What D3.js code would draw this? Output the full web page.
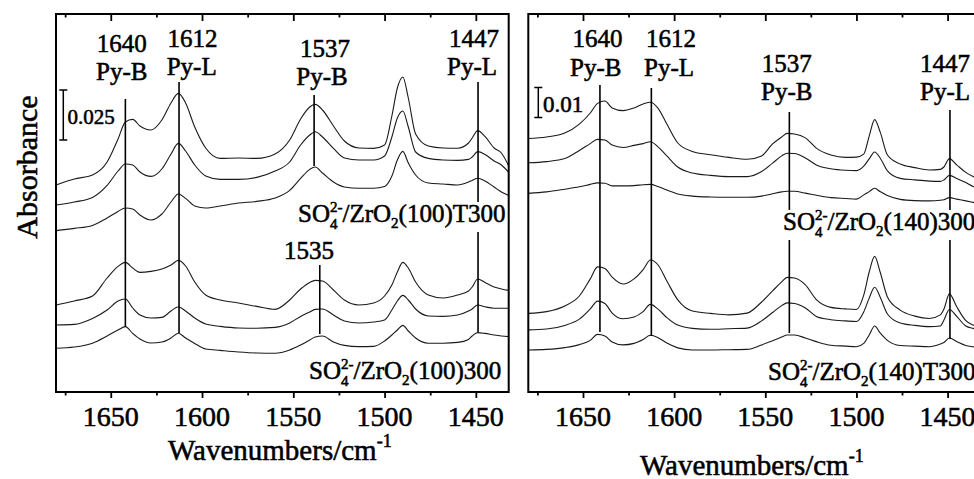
<!DOCTYPE html>
<html><head><meta charset="utf-8">
<script src="https://cdn.jsdelivr.net/npm/d3@7"></script>
<style>
body{margin:0;background:#fff}
svg{display:block}
text{font-family:"Liberation Serif","Times New Roman",serif;fill:#000;stroke:#000;stroke-width:0.55px}
</style>
</head><body>
<svg id="chart" width="974" height="479"></svg>
<script>
// Wavenumber grid (cm-1) shared by all spectra
const wavenumbers = [1680,1670,1660,1652,1646,1642,1638,1634,1628,1622,1617,1613,1609,1604,1598,1590,1580,1570,1560,1552,1546,1541,1538,1534,1528,1522,1514,1506,1500,1496,1493,1490,1487,1483,1476,1468,1460,1454,1452,1449,1445,1440,1436,1432];

// Absorbance (x10^-3, stacked with offsets) – left panel, SO4/ZrO2(100)T300
const z100T300_a = [103.5,106.5,108.5,115,126.5,135,136.3,133,131,136,144.5,149.3,144.5,132.5,122,116.8,117,116.8,119,126,136.5,142.5,143.8,141,133,125.5,122,121.8,123.5,138,152,157.5,147,129,123,122,121.9,124.5,127,130.7,127.8,122,119.5,113];
const z100T300_b = [93.5,95,97.3,103.3,110.5,114,113.5,110,107.8,111.5,119,124.3,120.5,113.5,108,106.3,106.3,107.3,110.5,115,123.5,128.5,130.1,127.5,121.8,117,116,116,118,127.5,137,140.5,132.5,120,116.8,116,115.8,116.3,117.5,120.2,118.8,115.5,113.5,109.8];
const z100T300_c = [80.7,81.8,83.3,87,90.3,92,91.5,88.5,86,89,95,99,96.8,93,92,93,94.5,95.3,97,100.8,106.8,111.3,112.5,109.5,105,102.5,101.9,101.9,102.8,108,116,120.3,114.5,108.5,104.5,104,103.5,105,105.8,106.9,105.5,102.5,100,98.3];
// left panel, SO4/ZrO2(100)300
const z100_300_a = [43.5,45.5,48,57,62.8,64.8,62,59.8,60.3,61.5,63.5,65.8,63,55,48.5,46,44.5,42.8,41.3,46,51.5,54.8,55.8,55.5,51,46,43.5,44.5,48,53.5,60,64.8,62,55,48.5,47,48.5,50.5,52.5,56.5,54.8,52.5,51.5,50.8];
const z100_300_b = [33.5,33.8,36.8,41,45.5,46.5,42,38.5,37,37.3,40.5,42.6,40.5,37,34,32.8,32,31.9,32.3,34.5,37.8,40,41.3,41.5,38.5,35.5,34.5,35,36,41,45.5,48.3,46,41.5,38,37.8,38.5,40.5,41.5,43.5,42.6,41.9,41.9,41.9];
const z100_300_c = [21.9,22.5,24.4,28,31,32.7,29.3,26.5,24.5,25,27,29.4,27,24.3,21.5,20.8,20,19.5,19.4,21,23.5,26,27.5,28,25,23.3,22.7,22.8,25.5,28.5,31,33.3,30.5,27,24.4,24.4,24.8,26.3,28,29.7,29.3,28.5,28,27.7];
// right panel, SO4/ZrO2(140)300
const z140_300_a = [84.5,85,86.3,89.3,93,96.2,97,94.7,93.8,94.7,96,96.6,94.7,89.3,83,80.2,79.1,78.2,77.6,78.7,82.7,85,86.2,86,84.7,81.3,79,78.2,78.3,79.3,85.3,90.8,86.7,79,76,74.8,74,74.2,75,77.8,75.7,73.2,71.8,70.7];
const z140_300_b = [76.4,76.8,77.8,80.5,82.8,84.2,84,82.3,81.5,82.2,82.8,83.4,81.8,78.7,75,73,72.2,71.8,71.8,73.5,76.3,78.7,79.6,79.5,78,75.7,74.4,73.9,73.8,75.3,77.7,80,78,73.7,71.2,70.7,70.3,70.2,70.7,72.2,71.2,69.8,68.5,67.7];
const z140_300_c = [66.2,66.7,67.6,68.4,69.2,69.7,69.6,68.7,68.7,68.8,69.1,69.2,68.5,67.3,66,65.3,65,64.9,64.9,65.3,66.1,66.7,66.9,66.9,66.3,65.6,64.8,64.5,64.3,65.7,66.8,67.9,66.8,65.5,64.2,63.8,63.7,63.9,64.1,64.8,64.3,63.7,63.2,62.7];
// right panel, SO4/ZrO2(140)T300
const z140T300_a = [26.2,26.8,28.7,32,37.7,41.7,41.2,38.3,36,37.7,40.8,44,42.5,37,30.7,27,26.2,25.7,26.3,30,33.7,36.7,38.2,38,35.7,30.8,28.2,27.7,27.5,32.3,40,45.2,40,31.7,27.3,25.3,24.5,25.7,27.7,32.7,28.4,23.8,22.3,21.7];
const z140T300_b = [20.7,21,22.2,24.3,27.7,30.3,29.5,26.3,24.4,25,26.8,29.2,27.7,24.8,22.3,21.2,20.9,21.1,21.3,23.7,26.5,28.8,29.7,29.5,28,25.2,24.1,23.7,23.5,26.7,31.3,34.9,31.7,26,23,22.2,21.8,22,24,27.5,25.2,22,21.2,20.8];
const z140T300_c = [14,14.2,14.8,15.8,17.2,19.2,18.7,16.7,15.7,16.2,17.5,18.9,18.2,16.3,14.7,14,14,14.1,14.2,15.7,17.1,18.3,19,19,18,16.8,15.6,15.3,15.1,16.2,19,22,19.7,17.2,15.5,15.3,15.1,16,16.5,18,16.8,15.5,15.1,14.8];

const xTicksMajor = [1650,1600,1550,1500,1450];
const xTicksMinor = [1675,1625,1575,1525,1475];
const xDomain = [1680,1432];

// Peak marker lines (wavenumber) and labels
const leftMarkers = [1642,1612.6,1538.6,1535.5,1448.8];
const rightMarkers = [1640.7,1612.5,1536.8,1448.7];
const leftPeakNums = ["1640","1612","1537","1447","1535"];
const leftPeakNames = ["Py-B","Py-L","Py-B","Py-L"];
const rightPeakNums = ["1640","1612","1537","1447"];
const rightPeakNames = ["Py-B","Py-L","Py-B","Py-L"];

const scaleBarLeft = 25;   // 0.025
const scaleBarRight = 10;  // 0.01

const svg = d3.select("#chart");
svg.append("rect").attr("width",974).attr("height",479).attr("fill","#fff");

const panels = [
  {x0:56, x1:508.7, yMax:189, series:[z100T300_a,z100T300_b,z100T300_c,z100_300_a,z100_300_b,z100_300_c]},
  {x0:528.3, x1:980.4, yMax:126, series:[z140_300_a,z140_300_b,z140_300_c,z140T300_a,z140T300_b,z140T300_c]}
];
const frameTop = 14, frameBot = 392;

panels.forEach(p => {
  p.x = d3.scaleLinear().domain(xDomain).range([p.x0, p.x1]);
  p.y = d3.scaleLinear().domain([0, p.yMax]).range([frameBot, frameTop]);
  p.g = svg.append("g");
});

function drawPanel(p){
  const g = p.g;
  const line = d3.line().x((d,i)=>p.x(wavenumbers[i])).y(d=>p.y(d)).curve(d3.curveMonotoneX);
  g.selectAll("path.spec").data(p.series).join("path")
    .attr("class","spec").attr("d", line)
    .attr("fill","none").attr("stroke","#1a1a1a").attr("stroke-width",1.1);
  const axMajB = d3.axisBottom(p.x).tickValues(xTicksMajor).tickSize(6).tickFormat("");
  const axMinB = d3.axisBottom(p.x).tickValues(xTicksMinor).tickSize(3.5).tickFormat("");
  const axMajT = d3.axisBottom(p.x).tickValues(xTicksMajor).tickSize(7).tickFormat("");
  const axMinT = d3.axisBottom(p.x).tickValues(xTicksMinor).tickSize(3.5).tickFormat("");
  [[axMajB,frameBot],[axMinB,frameBot],[axMajT,frameTop],[axMinT,frameTop]].forEach(([a,yy])=>{
    const ag = g.append("g").attr("transform",`translate(0,${yy})`).call(a);
    ag.select(".domain").remove();
    ag.selectAll("line").attr("stroke","#000").attr("stroke-width",1.8);
  });
  g.selectAll("text.tl").data(xTicksMajor).join("text").attr("class","tl")
    .attr("x",d=>p.x(d)).attr("y",426).attr("text-anchor","middle")
    .attr("font-size",28).text(d=>d);
  g.append("rect").attr("x",p.x0).attr("y",frameTop).attr("width",p.x1-p.x0).attr("height",frameBot-frameTop)
    .attr("fill","none").attr("stroke","#000").attr("stroke-width",2);
}
panels.forEach(drawPanel);

const L = panels[0], R = panels[1];

function vline(p, w, y0, y1){
  p.g.append("line").attr("x1",p.x(w)).attr("x2",p.x(w)).attr("y1",y0).attr("y2",y1)
    .attr("stroke","#000").attr("stroke-width",1.6);
}
vline(L, leftMarkers[0], 99, 327);
vline(L, leftMarkers[1], 82, 333);
vline(L, leftMarkers[2], 95, 166);
vline(L, leftMarkers[3], 265, 334);
vline(L, leftMarkers[4], 82, 332);
vline(R, rightMarkers[0], 85, 332);
vline(R, rightMarkers[1], 88, 336);
vline(R, rightMarkers[2], 112, 333);
vline(R, rightMarkers[3], 110, 339);

function label(g, x, y, t, size){
  return g.append("text").attr("x",x).attr("y",y).attr("text-anchor","middle")
    .attr("font-size",size).text(t);
}
label(L.g,121.7,51.7,leftPeakNums[0],25); label(L.g,121.7,80,leftPeakNames[0],25);
label(L.g,192.5,46.7,leftPeakNums[1],25); label(L.g,191.7,75,leftPeakNames[1],25);
label(L.g,325,56.7,leftPeakNums[2],25);   label(L.g,322,85,leftPeakNames[2],25);
label(L.g,474,46.7,leftPeakNums[3],25);   label(L.g,472,75,leftPeakNames[3],25);
label(L.g,309,259.3,leftPeakNums[4],25);
label(R.g,597.5,46.7,rightPeakNums[0],25); label(R.g,595.8,76,rightPeakNames[0],25);
label(R.g,671,46.7,rightPeakNums[1],25);   label(R.g,669,76,rightPeakNames[1],25);
label(R.g,786.7,71.7,rightPeakNums[2],25); label(R.g,786.7,100,rightPeakNames[2],25);
label(R.g,945,71.7,rightPeakNums[3],25);   label(R.g,945,100,rightPeakNames[3],25);

function sample(p, x, y, tail){
  const grp = p.g.append("g");
  const bg = grp.append("rect").attr("fill","#fff");
  const t = grp.append("text").attr("x",x).attr("y",y).attr("font-size",25);
  t.append("tspan").text("SO");
  t.append("tspan").attr("font-size",15).attr("dy",-10).text("2-");
  t.append("tspan").attr("font-size",15).attr("dx",-12.5).attr("dy",17).text("4");
  t.append("tspan").attr("dx",5).attr("dy",-7).text("/ZrO");
  t.append("tspan").attr("font-size",15).attr("dy",6).text("2");
  t.append("tspan").attr("dy",-6).text(tail);
  const b = t.node().getBBox();
  bg.attr("x",b.x-1).attr("y",b.y+3).attr("width",b.width+2).attr("height",b.height-3);
}
sample(L, 298, 222, "(100)T300");
sample(L, 309, 378.5, "(100)300");
sample(R, 783, 230, "(140)300");
sample(R, 768, 380, "(140)T300");

function scaleBar(p, x, yTop, val, txt, size, tx, ty){
  const h = p.y(0) - p.y(val);
  const g = p.g;
  g.append("line").attr("x1",x).attr("x2",x).attr("y1",yTop).attr("y2",yTop+h).attr("stroke","#000").attr("stroke-width",1.5);
  [yTop, yTop+h].forEach(yy=> g.append("line").attr("x1",x-4).attr("x2",x+4).attr("y1",yy).attr("y2",yy).attr("stroke","#000").attr("stroke-width",1.5));
  g.append("text").attr("x",tx).attr("y",ty).attr("font-size",size).text(txt);
}
scaleBar(L, 63.3, 90, scaleBarLeft, "0.025", 21, 67.5, 124);
scaleBar(R, 538.3, 87.5, scaleBarRight, "0.01", 23, 543, 111.7);

svg.append("text").attr("transform","translate(37,167) rotate(-90)").attr("text-anchor","middle")
  .attr("font-size",30).text("Absorbance");
function xTitle(x, y){
  const t = svg.append("text").attr("x",x).attr("y",y).attr("font-size",29);
  t.append("tspan").text("Wavenumbers/cm");
  t.append("tspan").attr("font-size",18).attr("dy",-13).text("-1");
}
xTitle(168, 460);
xTitle(640, 475);
</script>
</body></html>
